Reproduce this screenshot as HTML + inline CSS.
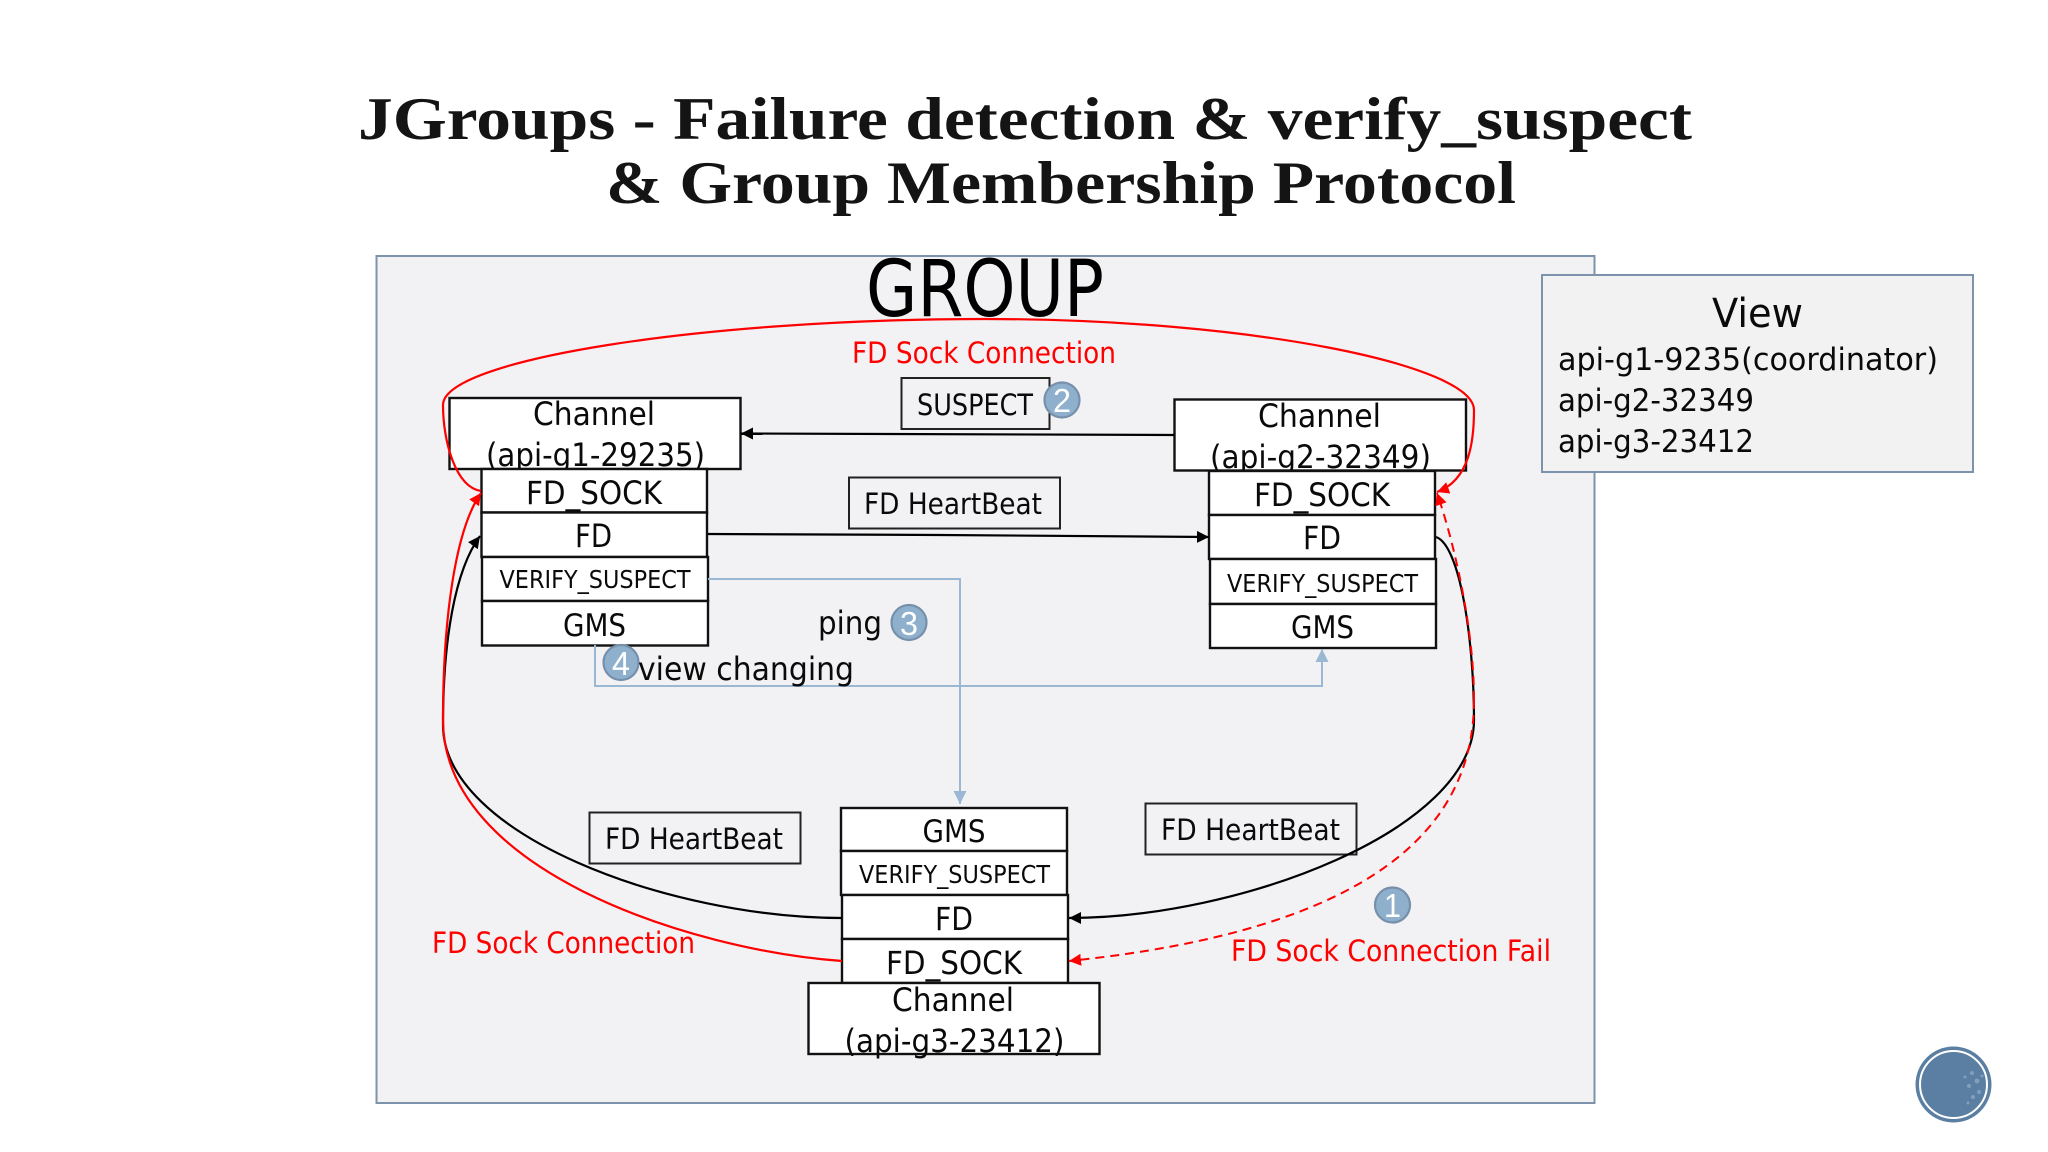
<!DOCTYPE html>
<html lang="en">
<head>
<meta charset="utf-8">
<title>JGroups - Failure detection &amp; verify_suspect &amp; Group Membership Protocol</title>
<style>
html,body{margin:0;padding:0;background:#fff;width:2048px;height:1152px;overflow:hidden}
svg{display:block}
text{font-family:"DejaVu Sans","Liberation Sans",sans-serif;fill:#0a0a0a}
text.t{font-family:"Liberation Serif",serif;font-weight:bold;font-size:60px;fill:#141414}
.b{fill:#fff;stroke:#111;stroke-width:2.4}
text.r{fill:#f00;font-size:29px}
.badge{fill:#8fb0cc;stroke:#7690ab;stroke-width:2.2}
text.n{font-family:"Liberation Sans",sans-serif;fill:#fff;font-size:33px}
</style>
</head>
<body>
<svg xmlns="http://www.w3.org/2000/svg" width="2048" height="1152" viewBox="0 0 2048 1152">
<defs>
<marker id="ak" markerUnits="userSpaceOnUse" markerWidth="14" markerHeight="14" refX="12" refY="6" orient="auto"><path d="M0 0L12 6L0 12Z" fill="#000"/></marker>
<marker id="ar" markerUnits="userSpaceOnUse" markerWidth="14" markerHeight="14" refX="12" refY="6" orient="auto"><path d="M0 0L12 6L0 12Z" fill="#f00"/></marker>
<marker id="ab" markerUnits="userSpaceOnUse" markerWidth="14" markerHeight="16" refX="13" refY="6.5" orient="auto"><path d="M0 0L13 6.5L0 13Z" fill="#9ab8d3"/></marker>
</defs>

<rect width="2048" height="1152" fill="#fff"/>

<text class="t" x="358" y="139" textLength="1334" lengthAdjust="spacingAndGlyphs">JGroups - Failure detection &amp; verify_suspect</text>
<text class="t" x="606" y="203" textLength="910" lengthAdjust="spacingAndGlyphs">&amp; Group Membership Protocol</text>

<rect x="376.5" y="256" width="1218" height="847" fill="#f2f1f3" stroke="#7c93ab" stroke-width="2"/>
<rect x="1542" y="275" width="431" height="197" fill="#f2f2f2" stroke="#7c93ab" stroke-width="2"/>

<text x="866" y="316" font-size="78" textLength="238" lengthAdjust="spacingAndGlyphs" style="fill:#000">GROUP</text>
<text x="1712" y="327" font-size="40" textLength="91" lengthAdjust="spacingAndGlyphs">View</text>
<text x="1558" y="370" font-size="31" textLength="380" lengthAdjust="spacingAndGlyphs">api-g1-9235(coordinator)</text>
<text x="1558" y="411" font-size="31" textLength="196" lengthAdjust="spacingAndGlyphs">api-g2-32349</text>
<text x="1558" y="452" font-size="31" textLength="196" lengthAdjust="spacingAndGlyphs">api-g3-23412</text>

<!-- label boxes -->
<rect x="901.5" y="378" width="148" height="51" fill="none" stroke="#222" stroke-width="2"/>
<text x="917" y="415" font-size="29" textLength="116" lengthAdjust="spacingAndGlyphs">SUSPECT</text>
<rect x="849" y="477.5" width="211" height="51" fill="none" stroke="#222" stroke-width="2"/>
<text x="864" y="514" font-size="29" textLength="178" lengthAdjust="spacingAndGlyphs">FD HeartBeat</text>
<rect x="589.5" y="812.5" width="211" height="51" fill="none" stroke="#222" stroke-width="2"/>
<text x="605" y="849" font-size="29" textLength="178" lengthAdjust="spacingAndGlyphs">FD HeartBeat</text>
<rect x="1145.5" y="803.5" width="211" height="51" fill="none" stroke="#222" stroke-width="2"/>
<text x="1161" y="840" font-size="29" textLength="179" lengthAdjust="spacingAndGlyphs">FD HeartBeat</text>

<!-- node 1 -->
<rect class="b" x="449.5" y="398" width="291" height="71"/>
<text x="533" y="425" font-size="32" textLength="122" lengthAdjust="spacingAndGlyphs">Channel</text>
<text x="486" y="466" font-size="32" textLength="219" lengthAdjust="spacingAndGlyphs">(api-g1-29235)</text>
<rect class="b" x="481.5" y="469" width="225.5" height="43.5"/>
<text x="526" y="504" font-size="32" textLength="136" lengthAdjust="spacingAndGlyphs">FD_SOCK</text>
<rect class="b" x="481.5" y="512.5" width="225.5" height="44.5"/>
<text x="575" y="547" font-size="32" textLength="37" lengthAdjust="spacingAndGlyphs">FD</text>
<rect class="b" x="482" y="557" width="226" height="44"/>
<text x="499.5" y="588" font-size="25" textLength="191" lengthAdjust="spacingAndGlyphs">VERIFY_SUSPECT</text>
<rect class="b" x="482" y="601" width="226" height="44.5"/>
<text x="563" y="636" font-size="31" textLength="63" lengthAdjust="spacingAndGlyphs">GMS</text>

<!-- node 2 -->
<rect class="b" x="1174.5" y="399.5" width="291.5" height="71"/>
<text x="1258" y="427" font-size="32" textLength="123" lengthAdjust="spacingAndGlyphs">Channel</text>
<text x="1210" y="468" font-size="32" textLength="221" lengthAdjust="spacingAndGlyphs">(api-g2-32349)</text>
<rect class="b" x="1209" y="471" width="226" height="44"/>
<text x="1254" y="506" font-size="32" textLength="136" lengthAdjust="spacingAndGlyphs">FD_SOCK</text>
<rect class="b" x="1209" y="515" width="226" height="44"/>
<text x="1303" y="549" font-size="32" textLength="38" lengthAdjust="spacingAndGlyphs">FD</text>
<rect class="b" x="1210" y="559" width="226" height="45"/>
<text x="1227" y="592" font-size="25" textLength="191" lengthAdjust="spacingAndGlyphs">VERIFY_SUSPECT</text>
<rect class="b" x="1210" y="604" width="226" height="44"/>
<text x="1291" y="638" font-size="31" textLength="63" lengthAdjust="spacingAndGlyphs">GMS</text>

<!-- node 3 -->
<rect class="b" x="841" y="808" width="226" height="43"/>
<text x="922.5" y="842" font-size="31" textLength="63" lengthAdjust="spacingAndGlyphs">GMS</text>
<rect class="b" x="841" y="851" width="226" height="44"/>
<text x="859" y="883" font-size="25" textLength="191" lengthAdjust="spacingAndGlyphs">VERIFY_SUSPECT</text>
<rect class="b" x="842" y="895" width="226" height="44"/>
<text x="935" y="930" font-size="32" textLength="38" lengthAdjust="spacingAndGlyphs">FD</text>
<rect class="b" x="842" y="939" width="226" height="44"/>
<text x="886" y="974" font-size="32" textLength="136" lengthAdjust="spacingAndGlyphs">FD_SOCK</text>
<rect class="b" x="808.5" y="983" width="291" height="71"/>
<text x="892" y="1011" font-size="32" textLength="122" lengthAdjust="spacingAndGlyphs">Channel</text>
<text x="844.5" y="1052" font-size="32" textLength="220" lengthAdjust="spacingAndGlyphs">(api-g3-23412)</text>

<!-- straight arrows -->
<path d="M1174 435 L741 433.5" fill="none" stroke="#000" stroke-width="2.2" marker-end="url(#ak)"/>
<path d="M708 534 L940 535 L1209 537" fill="none" stroke="#000" stroke-width="2.2" marker-end="url(#ak)"/>

<!-- blue connectors -->
<path d="M708 579 H960 V804" fill="none" stroke="#9ab8d3" stroke-width="2" marker-end="url(#ab)"/>
<path d="M595 645 V686 H1322 V649" fill="none" stroke="#9ab8d3" stroke-width="2" marker-end="url(#ab)"/>

<!-- curved connectors -->
<path d="M842 918 C670 918 443 835 443 725 C443 640 455 570 480 536" fill="none" stroke="#000" stroke-width="2.2" marker-end="url(#ak)"/>
<path d="M1436 537 C1460 545 1474 640 1474 720 C1474 830 1240 918 1069 918" fill="none" stroke="#000" stroke-width="2.2" marker-end="url(#ak)"/>
<path d="M842 961 C690 950 443 870 443 720 C443 620 455 530 481 493" fill="none" stroke="#f00" stroke-width="2.2" marker-end="url(#ar)"/>
<path d="M481 491 C455 487 443 440 443 405 C443 360 700 319 985 319 C1250 319 1474 365 1474 410 C1474 440 1470 480 1437 492" fill="none" stroke="#f00" stroke-width="2.2" marker-end="url(#ar)"/>
<path d="M1474 700 C1474 620 1450 530 1437 493" fill="none" stroke="#f00" stroke-width="2" stroke-dasharray="9 6" marker-end="url(#ar)"/>
<path d="M1474 700 C1474 830 1370 930 1069 961" fill="none" stroke="#f00" stroke-width="2" stroke-dasharray="9 6" marker-end="url(#ar)"/>

<!-- free labels -->
<text class="r" x="852" y="363" textLength="264" lengthAdjust="spacingAndGlyphs">FD Sock Connection</text>
<text class="r" x="432" y="953" textLength="263" lengthAdjust="spacingAndGlyphs">FD Sock Connection</text>
<text class="r" x="1231" y="961" textLength="320" lengthAdjust="spacingAndGlyphs">FD Sock Connection Fail</text>
<text x="818" y="634" font-size="32" textLength="64" lengthAdjust="spacingAndGlyphs">ping</text>

<!-- badges -->
<circle class="badge" cx="1062" cy="400" r="17.5"/>
<text class="n" x="1053" y="412" textLength="18" lengthAdjust="spacingAndGlyphs">2</text>
<circle class="badge" cx="909" cy="622.5" r="17.5"/>
<text class="n" x="900" y="635" textLength="18" lengthAdjust="spacingAndGlyphs">3</text>
<circle class="badge" cx="621" cy="662.5" r="17.5"/>
<text class="n" x="612" y="675" textLength="18" lengthAdjust="spacingAndGlyphs">4</text>
<circle class="badge" cx="1392.5" cy="905" r="17.5"/>
<text class="n" x="1384" y="917" textLength="17" lengthAdjust="spacingAndGlyphs">1</text>

<text x="638" y="680" font-size="32" textLength="216" lengthAdjust="spacingAndGlyphs">view changing</text>

<!-- corner decoration -->
<circle cx="1953.5" cy="1084.5" r="38" fill="#5a7fa3"/>
<circle cx="1953.5" cy="1084.5" r="33.5" fill="#5a7fa3" stroke="#fff" stroke-width="2"/>
<g fill="#a9c0d4" opacity=".5">
<circle cx="1972" cy="1073" r="2"/><circle cx="1977" cy="1081" r="2.5"/><circle cx="1969" cy="1086" r="2"/>
<circle cx="1979" cy="1092" r="2"/><circle cx="1973" cy="1097" r="2"/><circle cx="1965" cy="1077" r="1.5"/>
<circle cx="1982" cy="1076" r="1.5"/><circle cx="1968" cy="1103" r="1.5"/>
</g>
</svg>
</body>
</html>
